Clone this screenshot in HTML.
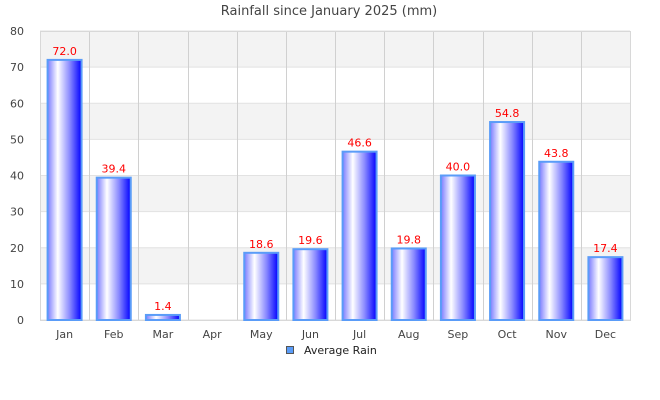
<!DOCTYPE html>
<html><head><meta charset="utf-8"><style>
html,body{margin:0;padding:0;background:#fff;width:660px;height:400px;overflow:hidden}
svg{display:block;font-family:"DejaVu Sans","Liberation Sans",sans-serif}
</style></head><body>
<svg id="c" width="660" height="400" xmlns="http://www.w3.org/2000/svg">
<defs>
<linearGradient id="g" x1="0" x2="1" y1="0" y2="0">
<stop offset="0" stop-color="#7a7aff"/>
<stop offset="0.3" stop-color="#ffffff"/>
<stop offset="0.65" stop-color="#8a8aff"/>
<stop offset="1" stop-color="#0000ff"/>
</linearGradient>
</defs>
<text x="329" y="15" font-size="13" fill="#444" text-anchor="middle">Rainfall since January 2025 (mm)</text>
</svg>
<script>
const s=document.getElementById('c');const NS='http://www.w3.org/2000/svg';
function el(t,a,txt){const e=document.createElementNS(NS,t);for(const k in a)e.setAttribute(k,a[k]);if(txt!==undefined)e.textContent=txt;s.appendChild(e);return e;}
const L=40,R=630,T=31,B=320,sc=(B-T)/80,sw=(R-L)/12;
for(let i=0;i<8;i++){const y1=B-(i+1)*10*sc;el('rect',{x:L,y:y1,width:R-L,height:10*sc,fill:(i%2==1)?'#f3f3f3':'#ffffff'});}
for(let v=0;v<=80;v+=10){const y=B-v*sc;el('line',{x1:L,x2:R,y1:y,y2:y,stroke:'#e2e2e2','stroke-width':1});el('text',{x:24,y:y+4,'font-size':11,fill:'#444','text-anchor':'end'},v);}
for(let i=1;i<12;i++){const x=Math.round(L+i*sw)+0.5;el('line',{x1:x,x2:x,y1:T,y2:B,stroke:'#d0d0d0'});}
el('rect',{x:L+0.5,y:T+0.5,width:R-L,height:B-T,fill:'none',stroke:'#d8d8d8'});
const m=['Jan','Feb','Mar','Apr','May','Jun','Jul','Aug','Sep','Oct','Nov','Dec'];
const d=[72.0,39.4,1.4,null,18.6,19.6,46.6,19.8,40.0,54.8,43.8,17.4];
for(let i=0;i<12;i++){const cx=L+i*sw+sw/2;
el('text',{x:cx,y:338,'font-size':11,fill:'#444','text-anchor':'middle'},m[i]);
if(d[i]==null)continue;const h=d[i]*sc,y=B-h;
el('rect',{x:cx-17,y:y,width:34,height:h,fill:'url(#g)',stroke:'#5a9cf8','stroke-width':2});
el('text',{x:cx,y:y-5,'font-size':11,fill:'#ff0000','text-anchor':'middle'},d[i].toFixed(1));}
el('rect',{x:286.5,y:346.5,width:7,height:7,fill:'#5a9cf8',stroke:'#555','stroke-width':1});
el('text',{x:304,y:354,'font-size':11,fill:'#222'},'Average Rain');
</script>
</body></html>
